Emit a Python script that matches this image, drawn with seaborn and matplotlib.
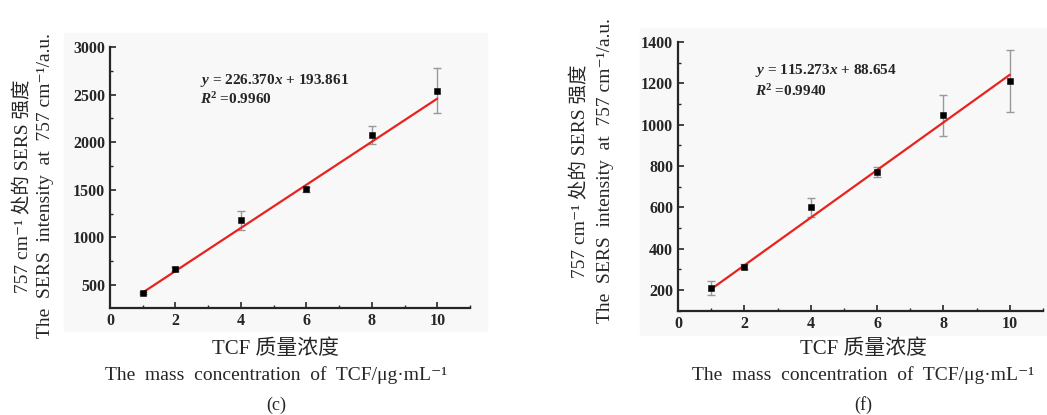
import numpy as np
import pandas as pd
import matplotlib
matplotlib.use("Agg")
import matplotlib.pyplot as plt
from matplotlib.patches import Rectangle
from matplotlib.ticker import MultipleLocator
import seaborn as sns

# data
conc = [1, 2, 4, 6, 8, 10]
int_c = [415, 665, 1180, 1505, 2075, 2540]
err_c = [15, 20, 100, 25, 90, 235]
int_f = [210, 312, 600, 770, 1045, 1210]
err_f = [35, 12, 45, 25, 100, 150]
slope_c, icpt_c = 226.370, 193.861
slope_f, icpt_f = 115.273, 88.654

sns.set_style("ticks")
fonts = ["Liberation Serif", "Noto Sans CJK SC", "DejaVu Serif"]
plt.rcParams["font.family"] = fonts
plt.rcParams["mathtext.fontset"] = "custom"
plt.rcParams["mathtext.rm"] = "Liberation Serif"
plt.rcParams["mathtext.it"] = "Liberation Serif:italic"
plt.rcParams["mathtext.bf"] = "Liberation Serif:bold"
plt.rcParams["mathtext.bfit"] = "Liberation Serif:bold:italic"

fig = plt.figure(figsize=(10.47, 4.15), dpi=100)
W, H = 1047, 415

# light grey panel backgrounds
for x0, y0, x1, y1 in [(64, 33, 487, 331), (640, 28, 1047, 335)]:
    fig.patches.append(Rectangle((x0 / W, 1 - y1 / H), (x1 - x0) / W, (y1 - y0) / H,
                                 transform=fig.transFigure, color="#f8f8f8", zorder=-10))


def panel(rect, y, err, slope, icpt, ylim, ymaj, r2, eqpos):
    ax = fig.add_axes(rect)
    ax.patch.set_alpha(0)
    df = pd.DataFrame({"x": conc, "y": y})
    ax.errorbar(conc, y, yerr=err, fmt="none", ecolor="#999999", elinewidth=1,
                capsize=3, capthick=1, zorder=2)
    fit = pd.DataFrame({"x": [conc[0], conc[-1]]})
    fit["y"] = slope * fit["x"] + icpt
    sns.lineplot(data=fit, x="x", y="y", ax=ax, color="#e8231f", lw=1.6, zorder=3)
    sns.scatterplot(data=df, x="x", y="y", ax=ax, marker="s", s=22, color="black",
                    edgecolor="black", zorder=4)
    ax.xaxis.set_major_locator(MultipleLocator(2))
    ax.xaxis.set_minor_locator(MultipleLocator(1))
    ax.yaxis.set_major_locator(MultipleLocator(ymaj))
    ax.yaxis.set_minor_locator(MultipleLocator(ymaj / 2))
    ax.tick_params(which="major", direction="in", length=4, width=1.2, labelsize=11.5)
    ax.tick_params(which="minor", direction="in", length=2, width=1)
    ax.set_xlim(0, 11)
    ax.set_ylim(*ylim)
    for lab in ax.get_xticklabels() + ax.get_yticklabels():
        lab.set_fontweight("bold")
    sns.despine(ax=ax)
    for s in ["left", "bottom"]:
        ax.spines[s].set_linewidth(1.6)
    ax.set_xlabel("")
    ax.set_ylabel("")
    ax.text(eqpos[0], eqpos[1], "$\\mathbfit{y}$ = %.3f$\\mathbfit{x}$ + %.3f" % (slope, icpt),
            transform=ax.transAxes, fontsize=11, fontweight="bold")
    ax.text(eqpos[0], eqpos[1] - 0.08, "$\\mathbfit{R}^{\\mathbf{2}}$ =%s" % r2,
            transform=ax.transAxes, fontsize=11, fontweight="bold")
    return ax


panel([110 / W, 1 - 308 / H, 360 / W, 261 / H], int_c, err_c, slope_c, icpt_c,
      (258, 3000), 500, "0.9960", (0.25, 0.86))
panel([678 / W, 1 - 311 / H, 365 / W, 269 / H], int_f, err_f, slope_f, icpt_f,
      (98, 1400), 200, "0.9940", (0.21, 0.88))

# axis labels and captions
for cx, l1x, l2x, cy in [(276, 23, 46, 186), (863, 580, 605, 171)]:
    fig.text(l1x / W, 1 - cy / H, "757 cm⁻¹ 处的 SERS 强度", rotation=90,
             ha="center", va="center", fontsize=14)
    fig.text(l2x / W, 1 - cy / H, "The  SERS  intensity  at  757 cm⁻¹/a.u.", rotation=90,
             ha="center", va="center", fontsize=14)
for cx, cap in [(276, "(c)"), (863, "(f)")]:
    fig.text(cx / W, 1 - 349 / H, "TCF 质量浓度", ha="center", va="center", fontsize=15)
    fig.text(cx / W, 1 - 375 / H, "The  mass  concentration  of  TCF/μg·mL⁻¹",
             ha="center", va="center", fontsize=14)
    fig.text(cx / W, 1 - 405 / H, cap, ha="center", va="center", fontsize=13)

fig.savefig("out.png", dpi=100)
